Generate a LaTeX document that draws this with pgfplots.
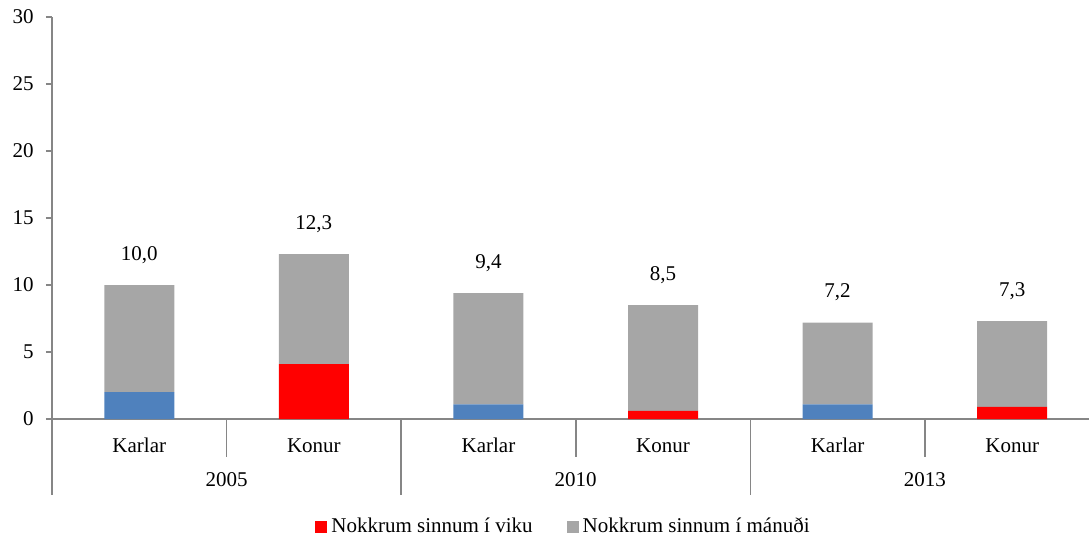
\documentclass[border=0pt]{standalone}
\usepackage{fontspec}
\setmainfont{Liberation Serif}
\usepackage{pgfplots}
\pgfplotsset{compat=1.18}
\usepackage{pgfplotstable}
\definecolor{cblue}{HTML}{4F81BD}
\definecolor{cred}{HTML}{FF0000}
\definecolor{cgray}{HTML}{A6A6A6}
\definecolor{axgray}{HTML}{868686}
\pgfplotstableread{
x blue red gray total
0 2.0 0   8.0 10.0
1 0   4.1 8.2 12.3
2 1.1 0   8.3 9.4
3 0   0.6 7.9 8.5
4 1.1 0   6.1 7.2
5 0   0.9 6.4 7.3
}\data
\begin{document}
\fontsize{10.5}{12.5}\selectfont
\begin{tikzpicture}
\useasboundingbox (-26pt,-59pt) rectangle (518.5pt,209.5pt);
\begin{axis}[
  at={(0,0)}, anchor=south west,
  scale only axis, width=518.5pt, height=201pt,
  ybar stacked, bar width=35pt,
  xmin=-0.5, xmax=5.44, ymin=0, ymax=30,
  ytick={0,5,...,30},
  xtick={0,...,5},
  xticklabels={Karlar,Konur,Karlar,Konur,Karlar,Konur},
  x tick style={draw=none},
  xticklabel style={yshift=-3pt},
  yticklabel style={xshift=-2.5pt},
  axis lines*=left,
  axis line style={axgray, line width=0.8pt},
  y tick style={axgray, line width=0.8pt},
  tick align=outside,
  major tick length=3pt,
  /pgf/number format/assume math mode=true,
  ticklabel style={font=\fontsize{10.5}{12.5}\selectfont},
  clip=false,
  legend style={at={(0.5,0)}, anchor=center, yshift=-54pt, xshift=-3pt, draw=none,
    font=\fontsize{10.5}{12.5}\selectfont, legend columns=2,
    /tikz/every even column/.append style={column sep=15pt}},
  legend image code/.code={\fill[#1] (-1pt,-3pt) rectangle (5pt,3pt);},
]
\addplot[fill=cred, draw=none] table[x=x, y=red] {\data};
\addlegendentry{Nokkrum sinnum í viku}
\addplot[fill=cblue, draw=none, forget plot] table[x=x, y=blue] {\data};
\addplot[fill=cgray, draw=none] table[x=x, y=gray] {\data};
\addlegendentry{Nokkrum sinnum í mánuði}
\draw[axgray, line width=0.8pt] (axis cs:0.5,0) -- ([yshift=-19pt]axis cs:0.5,0);
\draw[axgray, line width=0.8pt] (axis cs:2.5,0) -- ([yshift=-19pt]axis cs:2.5,0);
\draw[axgray, line width=0.8pt] (axis cs:4.5,0) -- ([yshift=-19pt]axis cs:4.5,0);
\draw[axgray, line width=0.8pt] (axis cs:-0.5,0) -- ([yshift=-38pt]axis cs:-0.5,0);
\draw[axgray, line width=0.8pt] (axis cs:1.5,0) -- ([yshift=-38pt]axis cs:1.5,0);
\draw[axgray, line width=0.8pt] (axis cs:3.5,0) -- ([yshift=-38pt]axis cs:3.5,0);
\node at ([yshift=-30.5pt]axis cs:0.5,0) {2005};
\node at ([yshift=-30.5pt]axis cs:2.5,0) {2010};
\node at ([yshift=-30.5pt]axis cs:4.5,0) {2013};
\end{axis}
\begin{axis}[
  at={(0,0)}, anchor=south west,
  scale only axis, width=518.5pt, height=201pt,
  xmin=-0.5, xmax=5.44, ymin=0, ymax=30,
  hide axis, clip=false,
]
\addplot[only marks, mark=none,
  point meta=explicit,
  nodes near coords={\pgfmathprintnumber[fixed,fixed zerofill,precision=1,use comma,assume math mode=true]{\pgfplotspointmeta}},
  every node near coord/.style={anchor=center, yshift=15pt, black, font=\fontsize{10.5}{12.5}\selectfont},
] table[x=x, y=total, meta=total] {\data};
\end{axis}
\end{tikzpicture}
\end{document}
